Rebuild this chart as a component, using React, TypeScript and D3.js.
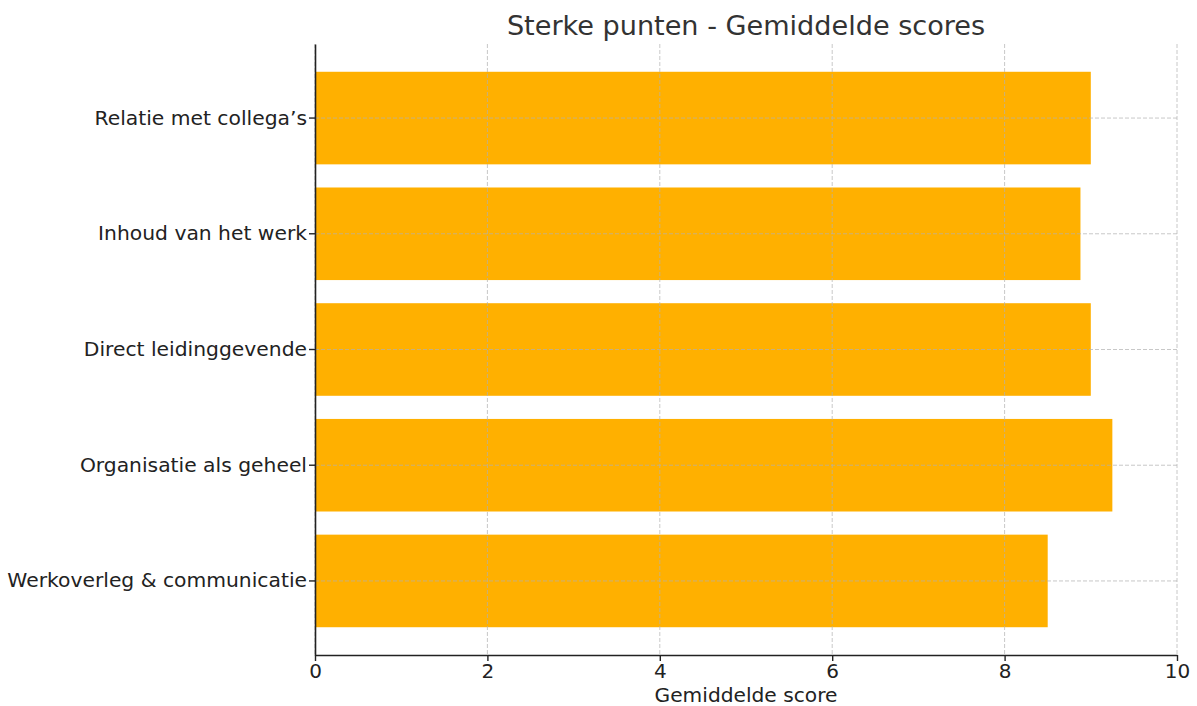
import React, { useEffect, useRef } from "react";
import * as d3 from "d3";

// categories top -> bottom
const categories = [
  "Relatie met collega’s",
  "Inhoud van het werk",
  "Direct leidinggevende",
  "Organisatie als geheel",
  "Werkoverleg & communicatie",
];
const scores = [9.0, 8.88, 9.0, 9.25, 8.5];
const xTicks = [0, 2, 4, 6, 8, 10];

export default function App() {
  const ref = useRef<SVGSVGElement>(null);

  useEffect(() => {
    const width = 1197, height = 706;
    const margin = { top: 44, right: 20, bottom: 51, left: 315 };
    const innerW = 1177 - margin.left;
    const innerH = 655 - margin.top;
    const font = "DejaVu Sans, sans-serif";

    const svg = d3.select(ref.current).attr("width", width).attr("height", height);
    svg.selectAll("*").remove();
    const g = svg.append("g").attr("transform", `translate(${margin.left},${margin.top})`);

    const x = d3.scaleLinear().domain([0, 10]).range([0, innerW]);
    const y = d3.scaleBand().domain(categories).range([0, innerH]).paddingInner(0.2).paddingOuter(0.24);

    // bars
    g.selectAll(".bar")
      .data(categories)
      .join("rect")
      .attr("class", "bar")
      .attr("x", 0)
      .attr("y", (d) => y(d)!)
      .attr("width", (d, i) => x(scores[i]))
      .attr("height", y.bandwidth())
      .attr("fill", "#ffb000");

    // grid (drawn over the bars)
    g.selectAll(".vgrid")
      .data(xTicks)
      .join("line")
      .attr("class", "vgrid")
      .attr("x1", (d) => x(d)).attr("x2", (d) => x(d))
      .attr("y1", 0).attr("y2", innerH)
      .attr("stroke", "#b0b0b0").attr("stroke-opacity", 0.7)
      .attr("stroke-dasharray", "4,2").attr("stroke-width", 1);
    g.selectAll(".hgrid")
      .data(categories)
      .join("line")
      .attr("class", "hgrid")
      .attr("x1", 0).attr("x2", innerW)
      .attr("y1", (d) => y(d)! + y.bandwidth() / 2)
      .attr("y2", (d) => y(d)! + y.bandwidth() / 2)
      .attr("stroke", "#b0b0b0").attr("stroke-opacity", 0.7)
      .attr("stroke-dasharray", "4,2").attr("stroke-width", 1);

    // x axis
    const xa = g.append("g")
      .attr("transform", `translate(0,${innerH})`)
      .call(d3.axisBottom(x).tickValues(xTicks).tickSize(6).tickPadding(3).tickSizeOuter(0));
    xa.select(".domain").attr("stroke", "#222").attr("stroke-width", 1.6);
    xa.selectAll(".tick line").attr("stroke", "#222").attr("stroke-width", 1.4);
    xa.selectAll(".tick text").attr("font-family", font).attr("font-size", 20).attr("fill", "#222");

    // y axis
    const ya = g.append("g")
      .call(d3.axisLeft(y).tickSize(6).tickPadding(2).tickSizeOuter(0));
    ya.select(".domain").attr("stroke", "#222").attr("stroke-width", 1.6);
    ya.selectAll(".tick line").attr("stroke", "#222").attr("stroke-width", 1.4);
    ya.selectAll(".tick text").attr("font-family", font).attr("font-size", 20.3).attr("fill", "#222");

    // title and label
    svg.append("text")
      .attr("x", margin.left + innerW / 2).attr("y", 35)
      .attr("text-anchor", "middle")
      .attr("font-family", font).attr("font-size", 27.1).attr("fill", "#333")
      .text("Sterke punten - Gemiddelde scores");
    svg.append("text")
      .attr("x", margin.left + innerW / 2).attr("y", 702)
      .attr("text-anchor", "middle")
      .attr("font-family", font).attr("font-size", 20.2).attr("fill", "#222")
      .text("Gemiddelde score");
  }, []);

  return <svg ref={ref} style={{ position: "absolute", left: 0, top: 0 }} />;
}
